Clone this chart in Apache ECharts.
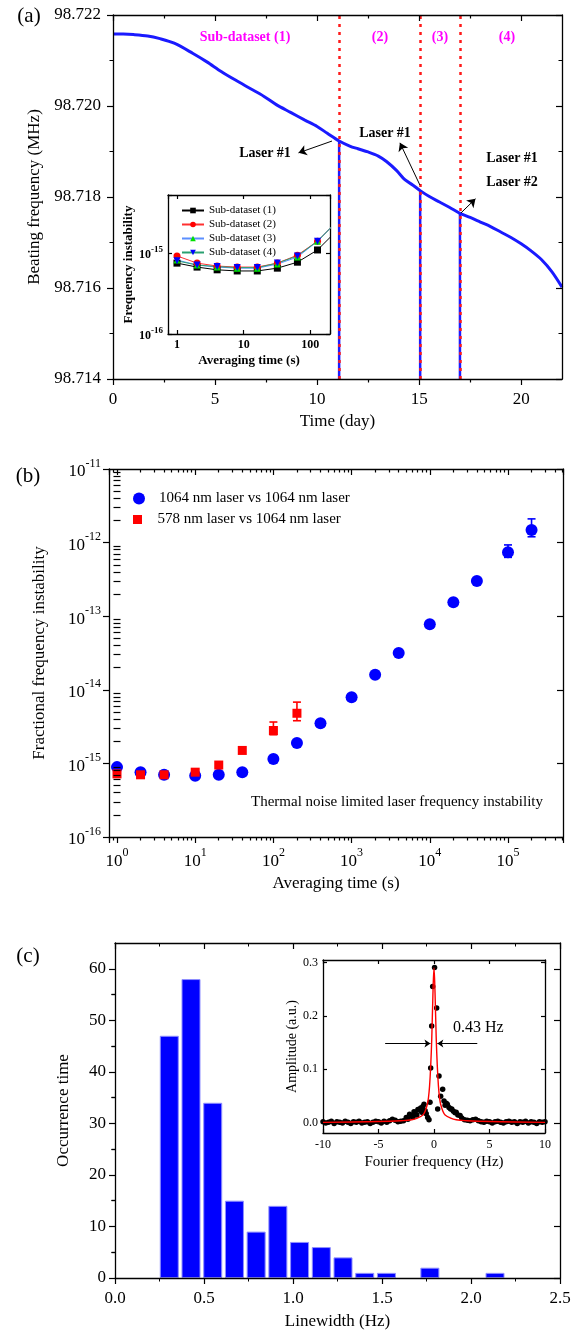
<!DOCTYPE html>
<html><head><meta charset="utf-8">
<script src="https://cdn.jsdelivr.net/npm/echarts@6/dist/echarts.min.js"></script>
<style>html,body{margin:0;padding:0;background:#fff}#c{width:578px;height:1336px}</style>
</head><body><div id="c"></div>
<script>
// ---------- Panel (a): beating frequency ----------
const beatDays = [0, 0.5, 1, 1.7, 2.3, 3, 3.9, 4.6, 5.3, 6, 6.7, 7.4, 8, 8.7, 9.4, 10, 10.5, 11.08, 11.6, 12.0, 12.5, 13.0, 13.4, 13.9, 14.3, 14.7, 15.05, 15.5, 16, 16.5, 17.0, 17.5, 18, 18.5, 19, 19.5, 20, 20.5, 21, 21.5, 22];
const beatFreq = [98.72158, 98.72158, 98.72157, 98.72154, 98.72148, 98.72138, 98.72116, 98.72097, 98.72076, 98.72057, 98.72039, 98.72021, 98.72003, 98.71986, 98.71969, 98.71955, 98.71940, 98.71923, 98.71912, 98.71906, 98.71899, 98.71890, 98.71878, 98.71858, 98.71838, 98.71826, 98.71814, 98.71801, 98.71789, 98.71777, 98.71764, 98.71755, 98.71745, 98.71735, 98.71723, 98.71711, 98.71697, 98.71681, 98.71662, 98.71636, 98.71602];
const switchDays = [11.08, 15.05, 17.0];
const subLabels = ['Sub-dataset (1)', '(2)', '(3)', '(4)'];
const dayTicks = [0, 5, 10, 15, 20];
const dayMinorTicks = [2.5, 7.5, 12.5, 17.5];
// inset (a)
const insetTau = [1, 2, 4, 8, 16, 32, 64, 128, 256];
const sub1 = [7.5e-16, 6.7e-16, 6.2e-16, 6.0e-16, 6.0e-16, 6.5e-16, 7.7e-16, 1.09e-15, 1.93e-15];
const sub2 = [9.2e-16, 7.5e-16, 6.9e-16, 6.7e-16, 6.7e-16, 7.5e-16, 9.4e-16, 1.40e-15, 2.5e-15];
const sub3 = [8.2e-16, 7.1e-16, 6.7e-16, 6.5e-16, 6.5e-16, 7.3e-16, 8.9e-16, 1.40e-15, 2.5e-15];
const sub4 = [8.0e-16, 7.1e-16, 6.8e-16, 6.6e-16, 6.6e-16, 7.5e-16, 9.2e-16, 1.40e-15, 2.5e-15];

// ---------- Panel (b): fractional frequency instability ----------
const tauBlue = [1, 2, 4, 10, 20, 40, 100, 200, 400, 1000, 2000, 4000, 10000, 20000, 40000, 100000, 200000];
const adevBlue = [8.9e-16, 7.6e-16, 7.0e-16, 6.8e-16, 7.0e-16, 7.6e-16, 1.15e-15, 1.9e-15, 3.5e-15, 7.9e-15, 1.6e-14, 3.16e-14, 7.8e-14, 1.55e-13, 3.0e-13, 7.4e-13, 1.48e-12];
const tauRed = [1, 2, 4, 10, 20, 40, 100, 200];
const adevRed = [7.2e-16, 7.0e-16, 7.0e-16, 7.6e-16, 9.5e-16, 1.5e-15, 2.8e-15, 4.8e-15];
const errBlue = [[40000, 2.85e-13, 3.2e-13], [100000, 6.3e-13, 9.3e-13], [200000, 1.2e-12, 2.1e-12]];
const errRed = [[100, 2.45e-15, 3.65e-15], [200, 3.8e-15, 6.8e-15]];
const thermalFloor = 4.6e-16;

// ---------- Panel (c): linewidth histogram ----------
const lwCenters = [0.305, 0.427, 0.549, 0.671, 0.793, 0.915, 1.037, 1.159, 1.281, 1.403, 1.525, 1.769, 2.135];
const lwCounts = [47, 58, 34, 15, 9, 14, 7, 6, 4, 1, 1, 2, 1];
const countTicks = [0, 10, 20, 30, 40, 50, 60];
const countMinorTicks = [5, 15, 25, 35, 45, 55];
// inset (c): spectrum dots and fit
const specX = [-10, -9.75, -9.5, -9.25, -9, -8.75, -8.5, -8.25, -8, -7.75, -7.5, -7.25, -7, -6.75, -6.5, -6.25, -6, -5.75, -5.5, -5.25, -5, -4.75, -4.5, -4.25, -4, -3.75, -3.5, -3.25, -3, -2.75,
  -2.5, -2.35, -2.2, -2.05, -1.9, -1.8, -1.7, -1.55, -1.45, -1.35, -1.2, -1.1, -1.0, -0.9, -0.8, -0.7, -0.57, -0.45, -0.36, -0.3, -0.21, -0.12, 0.05, 0.24, 0.33, 0.45, 0.6, 0.78, 0.9, 1.0, 1.1, 1.2, 1.35, 1.5, 1.6, 1.75, 1.9, 2.0, 2.15, 2.35, 2.5,
  2.75, 3, 3.25, 3.5, 3.75, 4, 4.25, 4.5, 4.75, 5, 5.25, 5.5, 5.75, 6, 6.25, 6.5, 6.75, 7, 7.25, 7.5, 7.75, 8, 8.25, 8.5, 8.75, 9, 9.25, 9.5, 9.75, 10];
const specY = [0.001, -0.001, 0.000, 0.002, -0.002, 0.001, 0.000, -0.001, 0.002, 0.000, -0.002, 0.001, 0.000, 0.002, -0.001, 0.000, 0.001, -0.002, 0.000, 0.002, 0.001, -0.001, 0.002, 0.000, 0.003, 0.006, 0.004, 0.001, 0.002, 0.003,
  0.009, 0.006, 0.015, 0.012, 0.010, 0.020, 0.017, 0.014, 0.024, 0.023, 0.027, 0.019, 0.030, 0.034, 0.022, 0.016, 0.009, 0.005, 0.038, 0.102, 0.181, 0.255, 0.291, 0.215, 0.025, 0.087, 0.049, 0.062, 0.040, 0.032, 0.036, 0.034, 0.028, 0.025, 0.025, 0.021, 0.018, 0.019, 0.014, 0.013, 0.008,
  0.005, 0.004, 0.003, 0.005, 0.006, 0.003, 0.001, 0.000, 0.002, 0.001, -0.001, 0.001, 0.002, 0.000, -0.001, 0.001, 0.002, 0.000, 0.001, -0.002, 0.001, 0.000, 0.002, -0.001, 0.001, 0.000, -0.002, 0.001, 0.000, 0.001];
const fitX = [-10, -6, -4, -3, -2, -1.5, -1, -0.8, -0.6, -0.5, -0.4, -0.3, -0.2, -0.1, 0, 0.1, 0.2, 0.3, 0.4, 0.5, 0.6, 0.8, 1, 1.5, 2, 3, 4, 6, 10];
const fitY = [0.000, 0.001, 0.002, 0.003, 0.005, 0.008, 0.014, 0.021, 0.034, 0.046, 0.068, 0.105, 0.158, 0.238, 0.290, 0.238, 0.158, 0.105, 0.068, 0.046, 0.034, 0.021, 0.014, 0.008, 0.005, 0.003, 0.002, 0.001, 0.000];
const ampTicks = [0, 0.1, 0.2, 0.3];

const FONT = '"Liberation Serif", "Times New Roman", serif';
const BLACK = '#000';
const zip = (a, b) => a.map((v, i) => [v, b[i]]);

function ax(o) {
  const a = {
    gridIndex: o.grid, type: o.type || 'value', position: o.pos,
    min: o.min, max: o.max,
    axisLine: o.noLine ? {show: false} : {show: true, onZero: false, lineStyle: {color: BLACK, width: 1.3}},
    splitLine: {show: false},
    axisTick: {show: !o.noTick, inside: !!o.inside, length: o.len || 6, lineStyle: {color: BLACK, width: 1.2}},
    axisLabel: o.label ? Object.assign({show: true, color: BLACK, fontFamily: FONT}, o.label) : {show: false},
    minorTick: o.minor ? {show: true, splitNumber: o.minor, length: 3.5, lineStyle: {color: BLACK, width: 1}} : {show: false},
    axisPointer: {show: false},
    z: 6
  };
  if (o.interval != null) a.interval = o.interval;
  if (o.type === 'log') a.logBase = 10;
  if (o.ticks) a.axisTick.customValues = o.ticks;
  if (o.labels) a.axisLabel.customValues = o.labels;
  if (o.name) {
    a.name = o.name; a.nameLocation = 'middle'; a.nameGap = o.nameGap;
    a.nameTextStyle = Object.assign({color: BLACK, fontFamily: FONT, fontSize: 17}, o.nameStyle || {});
  }
  return a;
}
function isPow10(v) { const e = Math.log10(v); return Math.abs(e - Math.round(e)) < 1e-6; }
function powLabel(v) { return isPow10(v) ? '{b|10}{s|' + Math.round(Math.log10(v)) + '}' : ''; }
const powRich = {b: {fontSize: 17, fontFamily: FONT, verticalAlign: 'bottom'}, s: {fontSize: 12, fontFamily: FONT, verticalAlign: 'bottom', padding: [0, 0, 11, 0]}};
const powRichSmall = {b: {fontSize: 12, fontWeight: 'bold', fontFamily: FONT, verticalAlign: 'bottom'}, s: {fontSize: 9, fontWeight: 'bold', fontFamily: FONT, verticalAlign: 'bottom', padding: [0, 0, 7, 0]}};

// minor tick positions for the log panel (b), in exponent space
const bxMin = 0.79, bxMax = 5.05e5;
const bMinorX = [], bMinorY = [];
for (let d = -1; d <= 5; d++) for (let k = 2; k <= 9; k++) { const v = Math.log10(k) + d; if (v > Math.log10(bxMin) && v < Math.log10(bxMax)) bMinorX.push(v); }
for (let d = -16; d <= -12; d++) for (let k = 2; k <= 9; k++) bMinorY.push(Math.log10(k) + d);

const xAxis = [
  ax({grid: 0, pos: 'bottom', min: 0, max: 22, interval: 5, ticks: dayTicks, labels: dayTicks, label: {fontSize: 17, margin: 12}, name: 'Time (day)', nameGap: 34}),
  ax({grid: 0, pos: 'top', min: 0, max: 22, interval: 5, ticks: dayTicks, inside: true}),
  ax({grid: 1, pos: 'bottom', type: 'log', min: 0.733, max: 197, len: 4, inside: true, label: {fontSize: 12, fontWeight: 'bold', margin: 5, formatter: v => isPow10(v) ? String(Math.round(v)) : ''}, name: 'Averaging time (s)', nameGap: 20, nameStyle: {fontSize: 13, fontWeight: 'bold'}}),
  ax({grid: 1, pos: 'top', type: 'log', min: 0.733, max: 197, len: 4, inside: true}),
  ax({grid: 2, pos: 'bottom', type: 'log', min: bxMin, max: bxMax, len: 6, label: {margin: 10, formatter: powLabel, rich: powRich}, name: 'Averaging time (s)', nameGap: 38}),
  ax({grid: 2, pos: 'top', type: 'log', min: bxMin, max: bxMax, len: 6, inside: true}),
  ax({grid: 2, pos: 'bottom', min: Math.log10(bxMin), max: Math.log10(bxMax), noLine: true, len: 3.5, ticks: bMinorX}),
  ax({grid: 2, pos: 'top', min: Math.log10(bxMin), max: Math.log10(bxMax), noLine: true, len: 3.5, inside: true, ticks: bMinorX}),
  ax({grid: 3, pos: 'bottom', min: 0, max: 2.5, interval: 0.5, minor: 2, label: {fontSize: 17, margin: 12, formatter: v => v.toFixed(1)}, name: 'Linewidth (Hz)', nameGap: 35}),
  ax({grid: 3, pos: 'top', min: 0, max: 2.5, interval: 0.5, minor: 2, inside: true}),
  ax({grid: 4, pos: 'bottom', min: -10, max: 10, interval: 5, len: 4, inside: true, label: {fontSize: 12, margin: 6}, name: 'Fourier frequency (Hz)', nameGap: 22, nameStyle: {fontSize: 15}}),
  ax({grid: 4, pos: 'top', min: -10, max: 10, interval: 5, len: 4, inside: true}),
  ax({grid: 0, pos: 'bottom', min: 0, max: 22, noLine: true, len: 3.5, ticks: dayMinorTicks}),
  ax({grid: 0, pos: 'top', min: 0, max: 22, noLine: true, len: 3.5, inside: true, ticks: dayMinorTicks})
];
const yAxis = [
  ax({grid: 0, pos: 'left', min: 98.714, max: 98.722, interval: 0.002, minor: 2, label: {fontSize: 17, margin: 12, formatter: v => v.toFixed(3)}, name: 'Beating frequency (MHz)', nameGap: 66}),
  ax({grid: 0, pos: 'right', min: 98.714, max: 98.722, interval: 0.002, minor: 2, inside: true}),
  ax({grid: 1, pos: 'left', type: 'log', min: 1e-16, max: 5.2e-15, len: 4, inside: true, label: {margin: 5, formatter: powLabel, rich: powRichSmall}, name: 'Frequency instability', nameGap: 32, nameStyle: {fontSize: 13, fontWeight: 'bold'}}),
  ax({grid: 1, pos: 'right', type: 'log', min: 1e-16, max: 5.2e-15, len: 4, inside: true}),
  ax({grid: 2, pos: 'left', type: 'log', min: 1e-16, max: 1e-11, len: 6, label: {margin: 8, formatter: powLabel, rich: powRich}, name: 'Fractional frequency instability', nameGap: 61}),
  ax({grid: 2, pos: 'right', type: 'log', min: 1e-16, max: 1e-11, len: 6, inside: true}),
  ax({grid: 2, pos: 'left', min: -16, max: -11, noLine: true, len: 3.5, inside: true, ticks: bMinorY}),
  ax({grid: 2, pos: 'right', min: -16, max: -11, noLine: true, len: 3.5, inside: true, ticks: bMinorY}),
  ax({grid: 3, pos: 'left', min: 0, max: 65, interval: 10, ticks: countTicks, labels: countTicks, label: {fontSize: 17, margin: 9}, name: 'Occurrence time', nameGap: 43}),
  ax({grid: 3, pos: 'right', min: 0, max: 65, interval: 10, inside: true, ticks: countTicks}),
  ax({grid: 4, pos: 'left', min: -0.02, max: 0.305, len: 4, inside: true, ticks: ampTicks, labels: ampTicks, label: {fontSize: 12, margin: 5, formatter: v => v.toFixed(1)}, name: 'Amplitude (a.u.)', nameGap: 24, nameStyle: {fontSize: 14}}),
  ax({grid: 4, pos: 'right', min: -0.02, max: 0.305, len: 4, inside: true, ticks: ampTicks}),
  ax({grid: 3, pos: 'left', min: 0, max: 65, noLine: true, len: 3.5, ticks: countMinorTicks}),
  ax({grid: 3, pos: 'right', min: 0, max: 65, noLine: true, len: 3.5, inside: true, ticks: countMinorTicks})
];

const freqAt = d => beatFreq[beatDays.indexOf(d)];
const BLUE = '#1a1aff';
const series = [];
// (a) curve
series.push({type: 'line', name: 'beat', xAxisIndex: 0, yAxisIndex: 0, data: zip(beatDays, beatFreq), showSymbol: false, smooth: 0.3, lineStyle: {color: BLUE, width: 3}, z: 3});
// (a) drop lines at the switch days
switchDays.forEach(d => series.push({type: 'line', xAxisIndex: 0, yAxisIndex: 0, data: [[d, freqAt(d)], [d, 98.714]], showSymbol: false, lineStyle: {color: BLUE, width: 2.5}, z: 3}));
// (a) red dotted dividers
series.push({type: 'line', xAxisIndex: 0, yAxisIndex: 0, data: [], z: 8,
  markLine: {silent: true, symbol: 'none', animation: false, label: {show: false}, lineStyle: {color: '#ff1a1a', type: [3, 5], width: 2.5}, data: switchDays.map(d => ({xAxis: d}))}});
// (a) arrows
series.push({type: 'line', xAxisIndex: 0, yAxisIndex: 0, data: [], z: 8,
  markLine: {silent: true, symbol: ['none', 'arrow'], symbolSize: 8, animation: false, label: {show: false}, lineStyle: {color: BLACK, type: 'solid', width: 1},
    data: [[{coord: [10.73, 98.71923]}, {coord: [9.09, 98.71897]}], [{coord: [15.04, 98.71826]}, {coord: [14.06, 98.71919]}], [{coord: [17.05, 98.71765]}, {coord: [17.76, 98.71796]}]]}});
// (a) inset
const insetStyle = [
  {name: 'Sub-dataset (1)', d: sub1, line: '#000000', fill: '#000000', sym: 'rect', rot: 0},
  {name: 'Sub-dataset (2)', d: sub2, line: '#ff3030', fill: '#ff0000', sym: 'circle', rot: 0},
  {name: 'Sub-dataset (3)', d: sub3, line: '#5b8fff', fill: '#00e000', sym: 'triangle', rot: 0},
  {name: 'Sub-dataset (4)', d: sub4, line: '#2aa070', fill: '#0000ff', sym: 'triangle', rot: 180}
];
insetStyle.forEach(s => series.push({type: 'line', name: s.name, xAxisIndex: 2, yAxisIndex: 2, data: zip(insetTau, s.d), symbol: s.sym, symbolRotate: s.rot, symbolSize: 7, showAllSymbol: true,
  lineStyle: {color: s.line, width: 1}, itemStyle: {color: s.fill}, clip: true, z: 7}));
// (b)
series.push({type: 'scatter', name: '1064 nm laser vs 1064 nm laser', xAxisIndex: 4, yAxisIndex: 4, data: zip(tauBlue, adevBlue), symbol: 'circle', symbolSize: 12, itemStyle: {color: '#0000ff', opacity: 1}, z: 4});
series.push({type: 'scatter', name: '578 nm laser vs 1064 nm laser', xAxisIndex: 4, yAxisIndex: 4, data: zip(tauRed, adevRed), symbol: 'rect', symbolSize: 9, itemStyle: {color: '#ff0000', opacity: 1}, z: 5});
function errRender(color) {
  return function (params, api) {
    const x = api.value(0), lo = api.value(1), hi = api.value(2);
    const a = api.coord([x, lo]), b = api.coord([x, hi]), w = 4;
    const st = {stroke: color, lineWidth: 1.6};
    return {type: 'group', children: [
      {type: 'line', shape: {x1: a[0], y1: a[1], x2: b[0], y2: b[1]}, style: st},
      {type: 'line', shape: {x1: b[0] - w, y1: b[1], x2: b[0] + w, y2: b[1]}, style: st},
      {type: 'line', shape: {x1: a[0] - w, y1: a[1], x2: a[0] + w, y2: a[1]}, style: st}
    ]};
  };
}
series.push({type: 'custom', xAxisIndex: 4, yAxisIndex: 4, data: errBlue, renderItem: errRender('#0000ff'), encode: {x: 0, y: [1, 2]}, z: 4});
series.push({type: 'custom', xAxisIndex: 4, yAxisIndex: 4, data: errRed, renderItem: errRender('#ff0000'), encode: {x: 0, y: [1, 2]}, z: 5});
series.push({type: 'line', xAxisIndex: 4, yAxisIndex: 4, data: [], z: 3,
  markLine: {silent: true, symbol: 'none', animation: false, label: {show: false}, lineStyle: {color: BLACK, type: [10, 7], width: 2.5}, data: [{yAxis: thermalFloor}]}});
// (c) histogram
series.push({type: 'bar', xAxisIndex: 8, yAxisIndex: 8, data: zip(lwCenters, lwCounts), barWidth: 19, itemStyle: {color: '#0000ff', borderColor: '#8f8fff', borderWidth: 1}, z: 2});
// (c) inset
series.push({type: 'scatter', xAxisIndex: 10, yAxisIndex: 10, data: zip(specX, specY), symbol: 'circle', symbolSize: 5.5, itemStyle: {color: '#000', opacity: 1}, z: 7});
series.push({type: 'line', xAxisIndex: 10, yAxisIndex: 10, data: zip(fitX, fitY), showSymbol: false, smooth: 0.4, lineStyle: {color: '#ff0000', width: 1.4}, z: 8,
  markLine: {silent: true, symbol: ['none', 'arrow'], symbolSize: 6, animation: false, label: {show: false}, lineStyle: {color: BLACK, type: 'solid', width: 1},
    data: [[{coord: [-4.4, 0.148]}, {coord: [-0.32, 0.148]}], [{coord: [3.9, 0.148]}, {coord: [0.3, 0.148]}]]}});

function txt(x, y, text, opt) {
  opt = opt || {};
  return {type: 'text', x: x, y: y, z: 20, style: {text: text, fill: opt.color || BLACK, font: (opt.bold ? 'bold ' : '') + (opt.size || 14) + 'px ' + FONT, textAlign: opt.align || 'center', textVerticalAlign: 'middle'}};
}
const graphic = [
  txt(29, 16, '(a)', {size: 21}),
  txt(28, 476, '(b)', {size: 21}),
  txt(28, 956, '(c)', {size: 21}),
  txt(245, 37, subLabels[0], {bold: true, size: 14, color: '#ff00ff'}),
  txt(380, 37, subLabels[1], {bold: true, size: 14, color: '#ff00ff'}),
  txt(440, 37, subLabels[2], {bold: true, size: 14, color: '#ff00ff'}),
  txt(507, 37, subLabels[3], {bold: true, size: 14, color: '#ff00ff'}),
  txt(265, 153, 'Laser #1', {bold: true, size: 14}),
  txt(385, 133, 'Laser #1', {bold: true, size: 14}),
  txt(512, 158, 'Laser #1', {bold: true, size: 14}),
  txt(512, 182, 'Laser #2', {bold: true, size: 14}),
  txt(543, 802, 'Thermal noise limited laser frequency instability', {size: 15, align: 'right'}),
  txt(453, 1028, '0.43 Hz', {size: 16, align: 'left'})
];

const chart = echarts.init(document.getElementById('c'), null, {renderer: 'canvas', width: 578, height: 1336});
chart.setOption({
  animation: false,
  backgroundColor: '#fff',
  textStyle: {fontFamily: FONT},
  grid: [
    {left: 113, top: 15, width: 449, height: 364},
    {left: 168, top: 195, width: 162, height: 139, backgroundColor: '#fff', show: true, borderWidth: 0, z: 5},
    {left: 109, top: 469, width: 454, height: 368},
    {left: 115, top: 943, width: 445, height: 335},
    {left: 323, top: 960, width: 222, height: 173, show: true, backgroundColor: '#fff', borderWidth: 0}
  ],
  legend: [
    {data: insetStyle.map(s => s.name), orient: 'vertical', left: 176, top: 200, itemWidth: 22, itemHeight: 7, itemGap: 3, selectedMode: false, textStyle: {fontFamily: FONT, fontSize: 11, color: BLACK}, z: 9},
    {data: [{name: '1064 nm laser vs 1064 nm laser', icon: 'circle'}], left: 128, top: 486, itemWidth: 30, itemHeight: 12, selectedMode: false, textStyle: {fontFamily: FONT, fontSize: 15, color: BLACK}},
    {data: [{name: '578 nm laser vs 1064 nm laser', icon: 'path://M0,0L10,0L10,10L0,10Z'}], left: 128, top: 507, itemWidth: 30, itemHeight: 9, symbolKeepAspect: true, selectedMode: false, textStyle: {fontFamily: FONT, fontSize: 15, color: BLACK}}
  ],
  xAxis: xAxis,
  yAxis: yAxis,
  series: series,
  graphic: graphic
});
</script>
</body></html>
